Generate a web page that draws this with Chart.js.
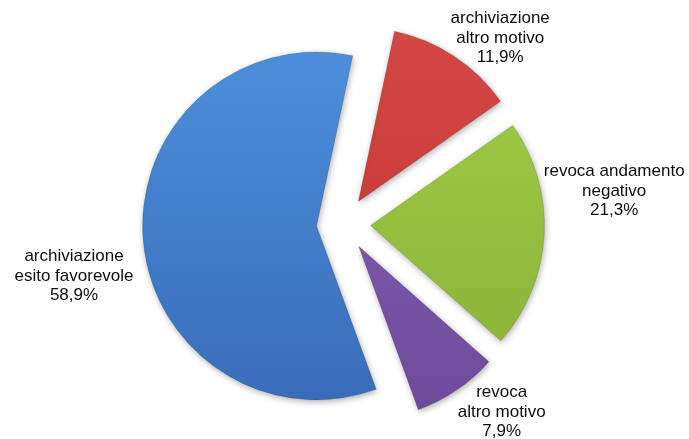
<!DOCTYPE html>
<html lang="it">
<head>
<meta charset="utf-8">
<title>Esiti dei procedimenti</title>
<script src="https://cdn.jsdelivr.net/npm/chart.js@4.4.1/dist/chart.umd.min.js"></script>
<style>
  html, body { margin: 0; padding: 0; background: #ffffff; }
  #wrap { position: relative; width: 689px; height: 439px; }
</style>
</head>
<body>
<div id="wrap"><canvas id="pie" width="689" height="439"></canvas></div>
<script>
// Categories (each label is split on two lines) and their shares in percent
const categories = [
  ['archiviazione', 'altro motivo'],
  ['revoca andamento', 'negativo'],
  ['revoca', 'altro motivo'],
  ['archiviazione', 'esito favorevole']
];
const shares = [11.9, 21.3, 7.9, 58.9];

// Fill colours: lighter tone at the top of the pie, deeper tone at the bottom
const lightColors = ['#D84946', '#A4D047', '#8763B4', '#4E91DE'];
const darkColors  = ['#BC3230', '#86AE37', '#6C489A', '#386AB6'];

const percentText = v => v.toFixed(1).replace('.', ',') + '%';

// Every slice is pulled out of the centre by the same distance, keeping its radius.
const EXPLODE_PX = 27;
const PIE_RADIUS = 174;

// Fine placement of each text block relative to the outer middle of its slice
const labelNudge = [[46, -18], [70, -44], [45, 22], [-69, 38]];

function sliceGradient(ctx) {
  const chart = ctx.chart;
  const area = chart.chartArea;
  if (!area) return lightColors[ctx.dataIndex];
  const cy = (area.top + area.bottom) / 2;
  const g = chart.ctx.createLinearGradient(0, cy - PIE_RADIUS - EXPLODE_PX, 0, cy + PIE_RADIUS + EXPLODE_PX);
  g.addColorStop(0, lightColors[ctx.dataIndex]);
  g.addColorStop(1, darkColors[ctx.dataIndex]);
  return g;
}

const softShadow = {
  id: 'softShadow',
  beforeDatasetsDraw(chart) {
    const c = chart.ctx;
    c.save();
    c.shadowColor = 'rgba(0,0,0,0.32)';
    c.shadowBlur = 6;
    c.shadowOffsetX = 1;
    c.shadowOffsetY = 2;
  },
  afterDatasetsDraw(chart) {
    chart.ctx.restore();
  }
};

// Draws each arc shifted outward along its bisector (an exploded pie)
const explodedSlices = {
  id: 'explodedSlices',
  beforeDatasetDraw(chart, args) {
    const c = chart.ctx;
    args.meta.data.forEach(arc => {
      const mid = (arc.startAngle + arc.endAngle) / 2;
      c.save();
      c.translate(Math.cos(mid) * EXPLODE_PX, Math.sin(mid) * EXPLODE_PX);
      arc.draw(c);
      c.restore();
    });
    return false;
  }
};

const sliceLabels = {
  id: 'sliceLabels',
  afterDatasetsDraw(chart) {
    const c = chart.ctx;
    const arcs = chart.getDatasetMeta(0).data;
    c.save();
    c.font = '17px "Liberation Sans", Arial, sans-serif';
    c.fillStyle = '#0d0d0d';
    c.textAlign = 'center';
    c.textBaseline = 'middle';
    const lineH = 19.5;
    arcs.forEach((arc, i) => {
      const p = arc.getProps(['x', 'y', 'startAngle', 'endAngle', 'outerRadius'], true);
      const mid = (p.startAngle + p.endAngle) / 2;
      const r = p.outerRadius + EXPLODE_PX;
      const cx = p.x + Math.cos(mid) * r + labelNudge[i][0];
      const cy = p.y + Math.sin(mid) * r + labelNudge[i][1];
      const lines = categories[i].concat([percentText(shares[i])]);
      const top = cy - (lines.length - 1) * lineH / 2;
      lines.forEach((t, k) => c.fillText(t, cx, top + k * lineH));
    });
    c.restore();
  }
};

new Chart(document.getElementById('pie'), {
  type: 'pie',
  data: {
    labels: categories.map(l => l.join(' ')),
    datasets: [{
      data: shares,
      backgroundColor: sliceGradient,
      borderColor: 'rgba(0,0,0,0.12)',
      borderWidth: 1
    }]
  },
  options: {
    responsive: false,
    animation: false,
    rotation: 12,
    radius: PIE_RADIUS,
    layout: { padding: { left: 0, right: 2, top: 9, bottom: 0 } },
    plugins: {
      legend: { display: false },
      tooltip: { enabled: false }
    }
  },
  plugins: [softShadow, explodedSlices, sliceLabels]
});
</script>
</body>
</html>
